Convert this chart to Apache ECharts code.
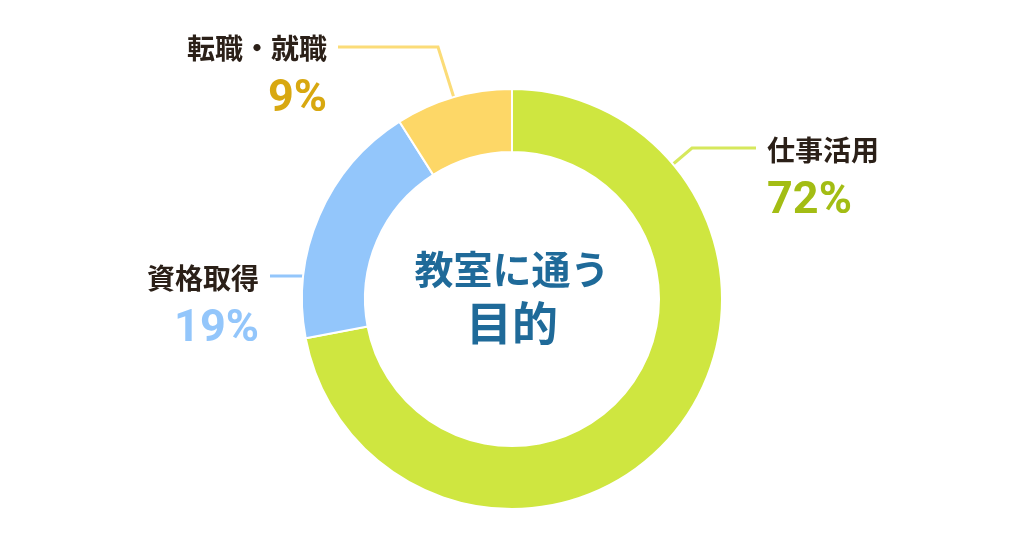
<!DOCTYPE html>
<html>
<head>
<meta charset="utf-8">
<style>
  html, body { margin: 0; padding: 0; background: #fff; }
  #app { width: 1024px; height: 541px; }
</style>
<script src="https://cdn.jsdelivr.net/npm/echarts@6/dist/echarts.min.js"></script>
</head>
<body>
<div id="app"></div>
<script>
const categories = ["仕事活用", "資格取得", "転職・就職"];
const values = [72, 19, 9];
const sliceColors = ["#cfe640", "#93c6fb", "#fdd767"];
const percentColors = ["#a3bd14", "#93c6fb", "#d8a810"];
const lineColors = ["#d6e85c", "#93c6fb", "#fbdc78"];
const centerLines = ["教室に通う", "目的"];

const font = '"Noto Sans CJK JP", "Noto Sans", sans-serif';
const cx = 512, cy = 299;
// where each label sits and how its leader runs, as page pixels
const labelLayouts = [
  { x: 767, y: 177, points: [[672, 165], [692, 148], [756, 148]], align: "left" },
  { x: 259, y: 305, points: [[304, 276], [270, 276]], align: "right" },
  { x: 327, y: 75, points: [[454, 98], [438, 47], [338, 47]], align: "right" }
];

const myChart = echarts.init(document.getElementById("app"), null, { renderer: "canvas" });

myChart.setOption({
  animation: false,
  backgroundColor: "#ffffff",
  graphic: [
    {
      type: "text", left: "center", top: 250,
      style: { text: centerLines[0], fontFamily: font, fontWeight: 700, fontSize: 39, fill: "#1f6a99" }
    },
    {
      type: "text", left: "center", top: 300,
      style: { text: centerLines[1], fontFamily: font, fontWeight: 700, fontSize: 46, fill: "#1f6a99" }
    }
  ],
  series: [
    {
      type: "pie",
      center: [cx, cy],
      radius: [147, 210],
      startAngle: 90,
      clockwise: true,
      silent: true,
      itemStyle: { borderColor: "#ffffff", borderWidth: 2 },
      labelLine: { show: true, lineStyle: { width: 2 } },
      data: categories.map((name, i) => ({
        name: name,
        value: values[i],
        itemStyle: { color: sliceColors[i] },
        labelLine: { lineStyle: { color: lineColors[i], width: 3 } },
        label: {
          show: true,
          formatter: "{n|{b}}\n{p|{c}%}",
          align: labelLayouts[i].align,
          rich: {
            n: { fontFamily: font, fontWeight: 700, fontSize: 28, color: "#2b2018", lineHeight: 50, align: labelLayouts[i].align },
            p: { fontFamily: "Roboto, sans-serif", fontWeight: 700, fontSize: 45, color: percentColors[i], lineHeight: 54, align: labelLayouts[i].align }
          }
        }
      })),
      labelLayout: function (params) {
        const l = labelLayouts[params.dataIndex];
        return {
          x: l.x,
          y: l.y,
          align: l.align,
          verticalAlign: "middle",
          labelLinePoints: l.points
        };
      }
    }
  ]
});
</script>
</body>
</html>
